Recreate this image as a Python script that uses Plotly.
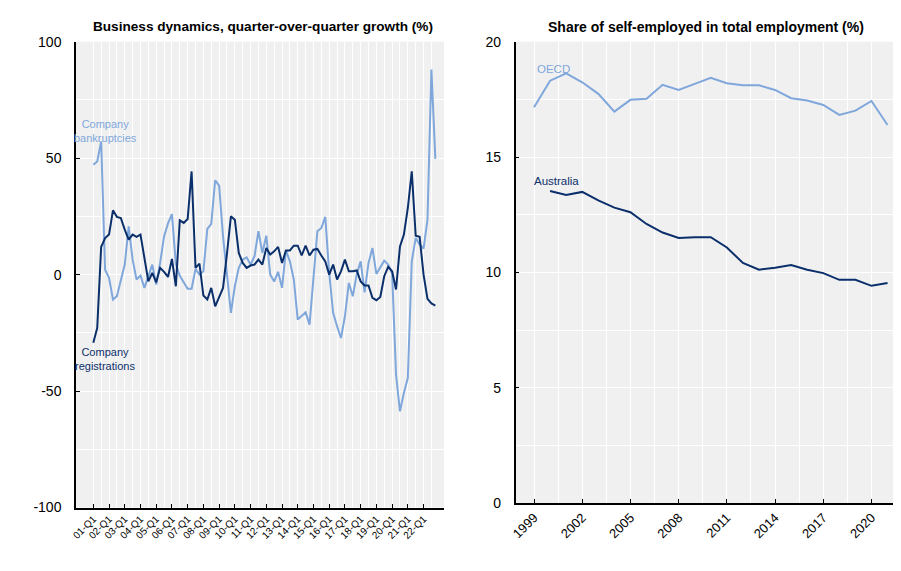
import plotly.graph_objects as go

# ---- Left panel data: quarterly growth (%), 2001-Q1 .. 2022-Q4 ----
years_q = [f"{y:02d}" for y in range(1, 23)]
quarters = [f"{y}-Q{q}" for y in years_q for q in range(1, 5)]
quarter_tick_labels = [f"{y}-Q1" for y in years_q]

registrations = [
    -29.3, -22.9, 11.9, 15.7, 17.2, 27.6, 24.8, 24.3, 19.3, 15.0,
    17.2, 16.2, 17.2, 6.4, -2.9, 0.7, -3.3, 2.9, 1.2, -1.0,
    6.7, -5.0, 23.3, 22.2, 23.9, 44.3, 2.9, 4.7, -9.0, -10.7,
    -5.7, -13.6, -9.3, -5.7, 9.0, 25.0, 23.6, 9.3, 5.0, 2.9,
    3.9, 4.3, 6.4, 4.3, 11.4, 8.6, 10.0, 11.9, 5.0, 10.4,
    10.4, 12.4, 12.4, 8.2, 12.4, 8.2, 10.7, 11.0, 8.2, 5.7,
    0.0, 4.3, -2.1, 1.4, 6.4, 1.4, 1.4, 1.8, -2.9, -4.7,
    -4.7, -10.0, -11.0, -9.6, -0.7, 3.3, 1.4, -6.4, 12.1, 17.2,
    28.6, 44.3, 16.7, 16.2, 0.0, -10.4, -12.4, -13.3,
]
bankruptcies = [
    47.2, 48.6, 57.2, 2.1, -1.4, -10.7, -9.3, -2.9, 4.3, 20.7,
    6.4, -2.1, -0.4, -5.7, -0.4, 4.3, -4.3, 5.0, 16.4, 22.0,
    26.0, 4.5, -0.5, -3.5, -6.1, -6.1, 2.4, 0.0, 1.4, 19.6,
    21.8, 40.5, 38.2, 16.4, -0.7, -16.4, -5.0, 2.9, 6.4, 7.4,
    4.3, 7.9, 18.6, 9.3, 16.7, 0.0, -3.0, 1.2, -5.7, 10.4,
    5.7, -2.1, -19.3, -17.9, -16.2, -21.5, -1.0, 18.6, 20.0, 24.8,
    0.7, -16.4, -22.2, -27.2, -17.9, -3.6, -9.3, 0.0, 5.7, -7.6,
    5.0, 11.4, 0.3, 3.1, 6.0, 4.3, 0.7, -42.9, -58.7, -50.8,
    -44.3, 5.7, 15.7, 12.9, 11.2, 23.6, 88.0, 49.7,
]

# ---- Right panel data: share of self-employed (%) ----
years = list(range(1999, 2022))
oecd = [17.16, 18.31, 18.63, 18.24, 17.74, 16.97, 17.48, 17.53, 18.13, 17.91,
        18.17, 18.44, 18.20, 18.11, 18.11, 17.91, 17.55, 17.45, 17.26, 16.83,
        17.01, 17.43, 16.39]
australia = [None, 13.53, 13.36, 13.49, 13.12, 12.81, 12.61, 12.10, 11.73, 11.49,
             11.53, 11.53, 11.08, 10.41, 10.12, 10.20, 10.32, 10.12, 9.97, 9.68,
             9.68, 9.42, 9.54]
year_ticks = list(range(1999, 2021, 3))

DARK = "#0B2F6B"
LIGHT = "#7FA7DB"
BG = "#F0F0F0"
FONT = "Liberation Sans, Arial, sans-serif"

# page body has an 8px default margin; the figure fills the rest of the window
OFF = 8
W, H = 901 - OFF, 571 - OFF
idx = list(range(len(quarters)))

fig = go.Figure()
fig.add_trace(go.Scatter(x=idx, y=bankruptcies, mode="lines", line=dict(color=LIGHT, width=2),
                         xaxis="x", yaxis="y", showlegend=False, hoverinfo="skip"))
fig.add_trace(go.Scatter(x=idx, y=registrations, mode="lines", line=dict(color=DARK, width=2),
                         xaxis="x", yaxis="y", showlegend=False, hoverinfo="skip"))
fig.add_trace(go.Scatter(x=years, y=oecd, mode="lines", line=dict(color=LIGHT, width=2),
                         xaxis="x2", yaxis="y2", showlegend=False, hoverinfo="skip"))
fig.add_trace(go.Scatter(x=years, y=australia, mode="lines", line=dict(color=DARK, width=2),
                         xaxis="x2", yaxis="y2", showlegend=False, hoverinfo="skip"))

def px_x(p):
    return (p - OFF) / W

def px_y(p):
    return 1 - (p - OFF) / H

q_tickvals = [quarters.index(t) for t in quarter_tick_labels]
q_minor = [v + 2 for v in q_tickvals]

common_axis = dict(showline=True, linecolor="black", linewidth=1.5, ticks="inside",
                   ticklen=4, tickcolor="black", tickwidth=1, zeroline=False,
                   gridcolor="white", gridwidth=1.2, automargin=False,
                   tickfont=dict(family=FONT, size=14, color="black"))

fig.update_layout(
    width=W, height=H, margin=dict(l=0, r=0, t=0, b=0),
    paper_bgcolor="white", plot_bgcolor=BG,
    xaxis=dict(domain=[px_x(76), px_x(444)], range=[-4.4, 89.2], anchor="y",
               tickmode="array", tickvals=q_tickvals, ticktext=quarter_tick_labels,
               tickangle=-45,
               minor=dict(tickvals=q_minor, showgrid=True, gridcolor="white", gridwidth=1.2, ticks=""),
               **{**common_axis, "tickfont": dict(family=FONT, size=10, color="black")}),
    yaxis=dict(domain=[px_y(507.5), px_y(41.7)], range=[-100, 100], anchor="x",
               tickmode="array", tickvals=[-100, -50, 0, 50, 100],
               ticktext=["-100", "-50", "0", "50", "100"],
               minor=dict(tickvals=[-75, -25, 25, 75], showgrid=True, gridcolor="white", gridwidth=1.2, ticks=""),
               ticklabelstandoff=10,
               **common_axis),
    xaxis2=dict(domain=[px_x(515.7), px_x(898)], range=[1997.86, 2021.65], anchor="y2",
                tickmode="array", tickvals=year_ticks, ticktext=[str(y) for y in year_ticks],
                tickangle=-45,
                minor=dict(tickvals=[y + 1.5 for y in year_ticks], showgrid=True, gridcolor="white", gridwidth=1.2, ticks=""),
                **{**common_axis, "tickfont": dict(family=FONT, size=13, color="black")}),
    yaxis2=dict(domain=[px_y(503.2), px_y(41.7)], range=[0, 20], anchor="x2",
                tickmode="array", tickvals=[0, 5, 10, 15, 20],
                minor=dict(tickvals=[2.5, 7.5, 12.5, 17.5], showgrid=True, gridcolor="white", gridwidth=1.2, ticks=""),
                ticklabelstandoff=10,
                **common_axis),
)

fig.add_annotation(x=px_x(263), y=px_y(27), xref="paper", yref="paper", showarrow=False,
                   text="<b>Business dynamics, quarter-over-quarter growth (%)</b>",
                   font=dict(family=FONT, size=13.6, color="black"), xanchor="center", yanchor="middle")
fig.add_annotation(x=px_x(706), y=px_y(27), xref="paper", yref="paper", showarrow=False,
                   text="<b>Share of self-employed in total employment (%)</b>",
                   font=dict(family=FONT, size=14, color="black"), xanchor="center", yanchor="middle")

fig.add_annotation(x=3, y=61.6, xref="x", yref="y", showarrow=False, text="Company<br>bankruptcies",
                   font=dict(family=FONT, size=11, color=LIGHT), xanchor="center", yanchor="middle", align="center")
fig.add_annotation(x=3, y=-36.4, xref="x", yref="y", showarrow=False, text="Company<br>registrations",
                   font=dict(family=FONT, size=11, color=DARK), xanchor="center", yanchor="middle", align="center")
fig.add_annotation(x=1999.05, y=18.82, xref="x2", yref="y2", showarrow=False, text="OECD",
                   font=dict(family=FONT, size=11.5, color=LIGHT), xanchor="left", yanchor="middle")
fig.add_annotation(x=1998.85, y=13.97, xref="x2", yref="y2", showarrow=False, text="Australia",
                   font=dict(family=FONT, size=11.5, color=DARK), xanchor="left", yanchor="middle")

fig.write_html("out.html")
